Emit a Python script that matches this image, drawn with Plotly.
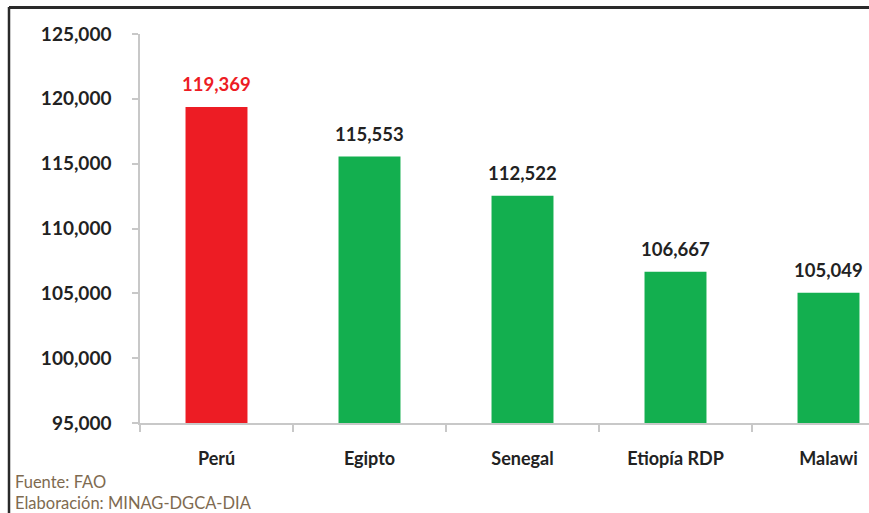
import plotly.graph_objects as go

countries = ["Perú", "Egipto", "Senegal", "Etiopía RDP", "Malawi"]
values = [119369, 115553, 112522, 106667, 105049]
bar_colors = ["#ED1C24", "#13AF4F", "#13AF4F", "#13AF4F", "#13AF4F"]
label_colors = ["#ED1C24", "#222222", "#222222", "#222222", "#222222"]
y_ticks = [95000, 100000, 105000, 110000, 115000, 120000, 125000]
source_lines = ["Fuente: FAO", "Elaboración: MINAG-DGCA-DIA"]

FONT = "Lato"
W, H = 869, 513
ML, MR, MT, MB = 140, 0, 34, 90
PW, PH = W - ML - MR, H - MT - MB

def px_x(px):
    return (px - ML) / PW

def px_y(py):
    return (H - MB - py) / PH

fig = go.Figure()
fig.add_trace(go.Bar(
    x=countries, y=values, marker=dict(color=bar_colors, line=dict(width=0)),
    width=0.405, hoverinfo="skip",
))

for c, v, col in zip(countries, values, label_colors):
    fig.add_annotation(
        x=c, y=v, text=f"<b>{v:,}</b>", showarrow=False, yanchor="bottom",
        yshift=10, font=dict(family=FONT, size=18.5, color=col),
    )

for i, (line, ypx) in enumerate(zip(source_lines, [482, 503])):
    fig.add_annotation(
        xref="paper", yref="paper", x=px_x(13), y=px_y(ypx),
        xanchor="left", yanchor="middle", text=line, showarrow=False,
        font=dict(family=FONT, size=16.5, color="#7E6A50"),
    )

# frame (left and top border of the cropped box)
fig.add_shape(type="line", xref="paper", yref="paper",
              x0=px_x(9), x1=px_x(9), y0=px_y(7), y1=px_y(520),
              line=dict(color="#2a2a2a", width=2.5))
fig.add_shape(type="line", xref="paper", yref="paper",
              x0=px_x(9), x1=px_x(880), y0=px_y(7.5), y1=px_y(7.5),
              line=dict(color="#2a2a2a", width=3))

fig.update_layout(
    width=W, height=H,
    margin=dict(l=ML, r=MR, t=MT, b=MB, pad=0),
    paper_bgcolor="white", plot_bgcolor="white",
    showlegend=False,
    font=dict(family=FONT, color="#222222"),
    xaxis=dict(
        type="category", range=[-0.5, -0.5 + PW / 153.0],
        showgrid=False, showline=True, linecolor="#C8C8C8", linewidth=1.5,
        ticks="outside", tickson="boundaries", ticklen=7, tickcolor="#C8C8C8",
        tickwidth=1.5,
        tickfont=dict(family=FONT, size=18, color="#222222", weight="bold"),
        ticklabelstandoff=19,
    ),
    yaxis=dict(
        range=[95000, 125000], tickvals=y_ticks,
        ticktext=[f"{t:,}" for t in y_ticks],
        showgrid=False, zeroline=False, showline=True, linecolor="#C8C8C8",
        linewidth=1.5, ticks="outside", ticklen=6, tickcolor="#C8C8C8",
        tickwidth=1.5,
        tickfont=dict(family=FONT, size=19, color="#222222", weight="bold"),
        ticklabelstandoff=17,
    ),
)

fig.write_html(
    "out.html",
    config={"displayModeBar": False},
    post_script="document.body.style.margin='0';document.body.style.overflow='hidden';",
)
